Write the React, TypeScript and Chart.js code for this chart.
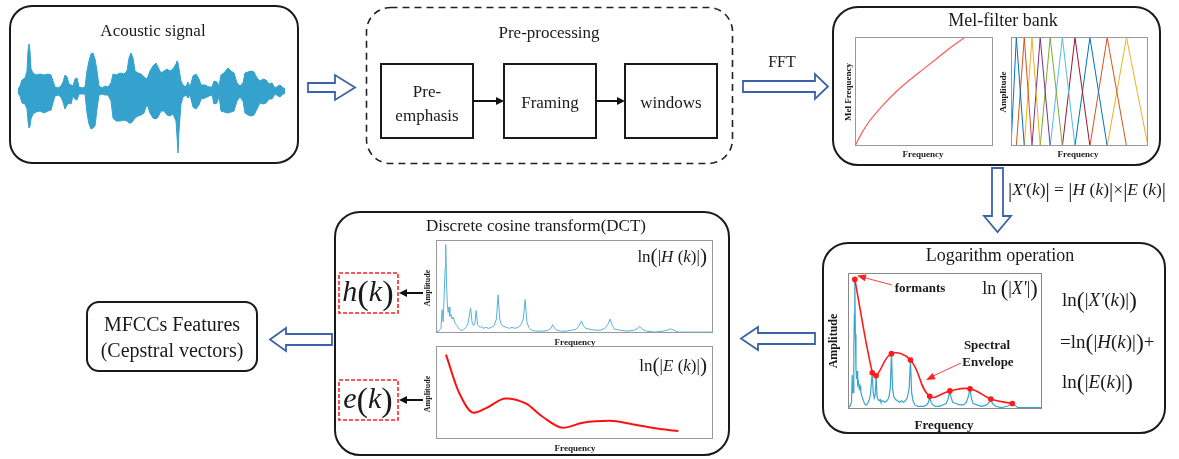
import React, { useEffect, useRef } from "react";
import { Chart, registerables } from "chart.js";
Chart.register(...registerables);

// ---------- DATA ----------
// Acoustic waveform envelope (sample index, upper / lower magnitude)
const waveTime = [18,20,22,25,27,28,29,30,31,33,36,40,44,48,51,53,55,58,61,63,65,67,69,71,73,75,77,79,82,85,87,89,91,93,95,97,99,102,105,108,111,113,116,120,124,127,129,131,133,135,138,141,144,147,150,153,156,158,161,164,167,170,173,176,177,178,179,181,183,186,188,190,193,196,199,201,205,209,212,214,217,219,221,224,228,231,234,237,240,243,245,248,251,254,257,260,263,266,269,272,275,278,280,282,285,287];
const waveUpper = [2,5,11,13,20,40,47,40,22,18,16,17,16,17,16,10,4,3,5,9,16,14,7,6,5,12,13,4,3,4,20,30,37,38,32,20,5,3,5,4,8,17,16,18,17,20,33,38,33,20,18,17,14,12,20,25,28,24,18,20,22,20,22,27,30,28,22,10,6,4,9,4,15,17,12,6,6,4,4,10,9,5,16,18,23,20,18,8,5,8,18,19,20,19,13,10,12,11,7,8,3,5,6,4,2,1];
const waveLower = [2,5,12,13,18,30,37,35,28,23,21,20,22,20,19,12,5,4,6,11,18,14,12,13,5,8,9,3,3,3,22,33,38,37,35,18,4,3,4,4,10,27,30,30,29,30,32,32,30,27,25,24,22,13,22,27,28,26,20,20,24,25,23,30,45,62,40,13,6,4,7,4,16,18,14,8,7,5,4,13,12,5,20,21,22,21,20,10,6,10,22,24,25,24,18,12,13,12,8,8,3,5,6,4,2,1];

// Mel scale curve (normalised frequency -> normalised mel)
const melFreq = [0, 0.05, 0.1, 0.2, 0.3, 0.4, 0.5, 0.6, 0.7, 0.8];
const melValue = [0, 0.12, 0.22, 0.37, 0.5, 0.61, 0.71, 0.81, 0.91, 1.0];

// Triangular filter edges (normalised frequency)
const filterEdges = [0, 0.039, 0.097, 0.153, 0.213, 0.286, 0.375, 0.467, 0.576, 0.702, 0.843, 1.0];
const filterColors = ["#0072BD", "#D95319", "#EDB120", "#7E2F8E", "#77AC30", "#4DBEEE", "#A2142F", "#0072BD", "#D95319", "#EDB120"];

// Log spectrum (normalised frequency / amplitude)
const specFreq = [0,0.01,0.018,0.022,0.026,0.03,0.033,0.035,0.038,0.041,0.044,0.047,0.05,0.054,0.058,0.062,0.066,0.07,0.075,0.08,0.085,0.09,0.095,0.1,0.105,0.11,0.115,0.12,0.125,0.13,0.135,0.14,0.145,0.15,0.155,0.16,0.165,0.17,0.18,0.19,0.2,0.21,0.218,0.224,0.23,0.236,0.245,0.255,0.265,0.275,0.285,0.295,0.305,0.315,0.322,0.328,0.335,0.345,0.36,0.375,0.39,0.405,0.415,0.421,0.428,0.437,0.45,0.47,0.49,0.505,0.515,0.525,0.532,0.54,0.555,0.575,0.595,0.61,0.62,0.629,0.636,0.645,0.665,0.69,0.715,0.728,0.736,0.745,0.76,0.79,0.82,0.835,0.847,0.858,0.875,0.9,0.93,0.96,1.0];
const specAmp = [0.01,0.02,0.05,0.25,0.12,0.45,0.7,0.95,0.55,0.3,0.22,0.28,0.18,0.2,0.15,0.17,0.13,0.1,0.08,0.06,0.04,0.03,0.03,0.04,0.05,0.07,0.1,0.18,0.27,0.12,0.08,0.1,0.24,0.09,0.07,0.06,0.07,0.05,0.06,0.05,0.06,0.08,0.15,0.41,0.15,0.09,0.07,0.06,0.05,0.06,0.05,0.06,0.08,0.15,0.36,0.12,0.06,0.03,0.02,0.02,0.02,0.03,0.05,0.09,0.05,0.03,0.02,0.02,0.03,0.04,0.07,0.13,0.08,0.05,0.04,0.03,0.03,0.05,0.09,0.15,0.08,0.04,0.03,0.02,0.03,0.05,0.07,0.04,0.02,0.01,0.02,0.03,0.045,0.03,0.01,0.01,0.01,0.01,0.01];

// Formant peaks joined by spectral envelope
const formantFreq = [0.035, 0.125, 0.145, 0.224, 0.322, 0.421, 0.525, 0.629, 0.736, 0.847];
const formantAmp = [0.953, 0.267, 0.244, 0.407, 0.36, 0.093, 0.133, 0.149, 0.074, 0.04];

// Envelope ln|E(k)|
const envFreq = [0.036, 0.082, 0.137, 0.179, 0.252, 0.324, 0.385, 0.458, 0.53, 0.627, 0.712, 0.809, 0.875];
const envAmp = [0.907, 0.507, 0.282, 0.329, 0.436, 0.382, 0.239, 0.121, 0.175, 0.196, 0.157, 0.107, 0.086];

// ---------- HELPERS ----------
const SERIF = '"Liberation Serif", "Times New Roman", serif';

const pts = (xs: number[], ys: number[], sign = 1) => xs.map((x, i) => ({ x, y: sign * ys[i] }));

const framePlugin = (color: string) => ({
  id: "frame",
  afterDraw(chart: any) {
    const { ctx, chartArea: a } = chart;
    ctx.save();
    ctx.strokeStyle = color;
    ctx.lineWidth = 1;
    ctx.strokeRect(a.left + 0.5, a.top + 0.5, a.right - a.left - 1, a.bottom - a.top - 1);
    ctx.restore();
  },
});

function baseOptions(xmin: number, xmax: number, ymin: number, ymax: number): any {
  return {
    responsive: false,
    animation: false,
    devicePixelRatio: 1,
    events: [],
    layout: { padding: 0 },
    plugins: { legend: { display: false }, tooltip: { enabled: false } },
    scales: {
      x: { type: "linear", display: false, min: xmin, max: xmax },
      y: { type: "linear", display: false, min: ymin, max: ymax },
    },
    elements: { point: { radius: 0 }, line: { tension: 0 } },
  };
}

function PlotCanvas({ left, top, width, height, make }: any) {
  const ref = useRef<HTMLCanvasElement>(null);
  useEffect(() => {
    const chart = new Chart(ref.current as HTMLCanvasElement, make());
    return () => chart.destroy();
  }, []);
  return (
    <canvas
      ref={ref}
      width={width}
      height={height}
      style={{ position: "absolute", left, top, width, height }}
    />
  );
}

function T({ x, y, size = 17, bold = false, italic = false, rotate = 0, anchor = "center", children }: any) {
  const tx = anchor === "center" ? "-50%" : anchor === "end" ? "-100%" : "0";
  return (
    <div
      style={{
        position: "absolute",
        left: x,
        top: y,
        transform: `translate(${tx}, -50%) rotate(${rotate}deg)`,
        fontFamily: SERIF,
        fontSize: size,
        fontWeight: bold ? "bold" : "normal",
        fontStyle: italic ? "italic" : "normal",
        color: "#1a1a1a",
        whiteSpace: "nowrap",
        lineHeight: 1,
      }}
    >
      {children}
    </div>
  );
}

const I = ({ children }: any) => <i>{children}</i>;
const Big = ({ children, s = 1.25 }: any) => (
  <span style={{ fontSize: `${s}em`, fontStyle: "normal", verticalAlign: "-0.08em" }}>{children}</span>
);

function arrowHead(x1: number, y1: number, x2: number, y2: number, len: number, half: number) {
  const dx = x2 - x1, dy = y2 - y1;
  const d = Math.hypot(dx, dy);
  const ux = dx / d, uy = dy / d;
  const bx = x2 - ux * len, by = y2 - uy * len;
  return `${x2},${y2} ${bx - uy * half},${by + ux * half} ${bx + uy * half},${by - ux * half}`;
}

// ---------- CHART CONFIGS ----------
const waveConfig = () => ({
  type: "line",
  data: {
    datasets: [
      { data: pts(waveTime, waveUpper), borderColor: "#34a2cc", borderWidth: 1, backgroundColor: "#34a2cc", fill: false, pointRadius: 0 },
      { data: pts(waveTime, waveLower, -1), borderColor: "#34a2cc", borderWidth: 1, backgroundColor: "#34a2cc", fill: "-1", pointRadius: 0 },
    ],
  },
  options: baseOptions(15, 285, -67, 53),
});

const melConfig = () => ({
  type: "line",
  data: {
    datasets: [
      { data: pts(melFreq, melValue), borderColor: "#ff5a5a", borderWidth: 1.2, tension: 0.4, cubicInterpolationMode: "monotone", pointRadius: 0 },
    ],
  },
  options: baseOptions(0, 1, 0, 1),
  plugins: [framePlugin("#999")],
});

const filterConfig = () => ({
  type: "line",
  data: {
    datasets: filterColors.map((c, i) => ({
      data: [
        { x: 0, y: 0 },
        { x: filterEdges[i], y: 0 },
        { x: filterEdges[i + 1], y: 1 },
        { x: filterEdges[i + 2], y: 0 },
        { x: 1, y: 0 },
      ],
      borderColor: c,
      borderWidth: 1,
      pointRadius: 0,
    })),
  },
  options: baseOptions(0, 1, 0, 1.005),
  plugins: [framePlugin("#999")],
});

const logConfig = () => ({
  type: "line",
  data: {
    datasets: [
      { data: pts(formantFreq, formantAmp), borderColor: "#ff1a1a", borderWidth: 1.6, tension: 0.4, pointRadius: 2.8, pointBackgroundColor: "#ff1a1a", pointBorderWidth: 0 },
      { data: pts(specFreq, specAmp), borderColor: "#3aa3cf", borderWidth: 1.2, pointRadius: 0 },
    ],
  },
  options: baseOptions(0, 1, 0, 1),
  plugins: [framePlugin("#888")],
});

const hConfig = () => ({
  type: "line",
  data: {
    datasets: [{ data: pts(specFreq, specAmp), borderColor: "#55b1da", borderWidth: 1, pointRadius: 0 }],
  },
  options: baseOptions(0, 1, 0, 1),
  plugins: [framePlugin("#999")],
});

const eConfig = () => ({
  type: "line",
  data: {
    datasets: [{ data: pts(envFreq, envAmp), borderColor: "#ff1010", borderWidth: 2, tension: 0.4, cubicInterpolationMode: "monotone", pointRadius: 0 }],
  },
  options: baseOptions(0, 1, 0, 1),
  plugins: [framePlugin("#999")],
});

// ---------- APP ----------
export default function App() {
  const blue = "#3b63a8";
  return (
    <div style={{ position: "absolute", left: 0, top: 0, width: 1179, height: 459, background: "#fff", overflow: "hidden" }}>
      <PlotCanvas left={15} top={38} width={270} height={120} make={waveConfig} />
      <PlotCanvas left={855} top={37} width={138} height={109} make={melConfig} />
      <PlotCanvas left={1011} top={37} width={137} height={109} make={filterConfig} />
      <PlotCanvas left={844} top={269} width={202} height={144} make={logConfig} />
      <PlotCanvas left={436} top={240} width={277} height={93} make={hConfig} />
      <PlotCanvas left={436} top={346} width={277} height={93} make={eConfig} />

      <svg width={1179} height={459} style={{ position: "absolute", left: 0, top: 0, pointerEvents: "none" }}>
        <g fill="none" stroke="#1a1a1a" strokeWidth={2}>
          <rect x={10} y={6} width={288} height={157} rx={22} />
          <rect x={381} y={64} width={92} height={74} />
          <rect x={504} y={64} width={92} height={74} />
          <rect x={625} y={64} width={92} height={74} />
          <rect x={833} y={7} width={327} height={158} rx={25} />
          <rect x={823} y={243} width={342} height={190} rx={25} />
          <rect x={335} y={212} width={394} height={243} rx={25} />
          <rect x={87} y={302} width={170} height={69} rx={12} />
        </g>
        <rect x={366.5} y={7.5} width={366} height={156} rx={24} fill="none" stroke="#222" strokeWidth={1.6} strokeDasharray="7 5" />
        <g fill="none" stroke="#ff2020" strokeWidth={1.6} strokeDasharray="4 2">
          <rect x={339} y={273} width={59} height={40} />
          <rect x={339} y={380} width={59} height={40} />
        </g>
        {/* hollow block arrows */}
        <g fill="#fff" stroke={blue} strokeWidth={1.8} strokeLinejoin="miter">
          <polygon points="308,83 335,83 335,75 355,87.5 335,100 335,92 308,92" />
          <polygon points="743,81 815,81 815,74 828,86.5 815,99 815,92 743,92" />
          <polygon points="992,168 1003,168 1003,216 1011,216 997.5,232 984,216 992,216" />
          <polygon points="815,333 758,333 758,327 741,338.5 758,350 758,344 815,344" />
          <polygon points="332,334 286,334 286,328 270,339.5 286,351 286,345 332,345" />
        </g>
        {/* black flow arrows */}
        <g stroke="#111" strokeWidth={2}>
          <line x1={473} y1={101} x2={498} y2={101} />
          <line x1={596} y1={101} x2={619} y2={101} />
          <line x1={423} y1={293} x2={406} y2={293} />
          <line x1={423} y1={400} x2={406} y2={400} />
        </g>
        <g fill="#111">
          <polygon points={arrowHead(473, 101, 504, 101, 8, 4)} />
          <polygon points={arrowHead(596, 101, 625, 101, 8, 4)} />
          <polygon points={arrowHead(423, 293, 399, 293, 8, 4)} />
          <polygon points={arrowHead(423, 400, 399, 400, 8, 4)} />
        </g>
        {/* annotation arrows in log plot */}
        <g stroke="#ff4040" strokeWidth={1}>
          <line x1={892} y1={285} x2={862} y2={277} />
          <line x1={961} y1={363} x2={931} y2={377} />
        </g>
        <g fill="#ff2020">
          <polygon points={arrowHead(892, 285, 857, 275.5, 9, 3.5)} />
          <polygon points={arrowHead(961, 363, 926, 380, 9, 3.5)} />
        </g>
      </svg>

      <T x={153} y={30} size={17}>Acoustic signal</T>
      <T x={549} y={32} size={17}>Pre-processing</T>
      <T x={427} y={91} size={17}>Pre-</T>
      <T x={427} y={115} size={17}>emphasis</T>
      <T x={550} y={102} size={17}>Framing</T>
      <T x={671} y={102} size={17}>windows</T>
      <T x={782} y={62} size={16}>FFT</T>

      <T x={1003} y={20} size={18}>Mel-filter bank</T>
      <T x={923} y={154} size={9} bold>Frequency</T>
      <T x={1078} y={154} size={9} bold>Frequency</T>
      <T x={848} y={92} size={9} bold rotate={-90}>Mel Frequency</T>
      <T x={1003} y={92} size={9} bold rotate={-90}>Amplitude</T>

      <T x={1008} y={190} size={17.5} anchor="start">
        <Big s={1.2}>|</Big><I>X</I>'(<I>k</I>)<Big s={1.2}>|</Big> = <Big s={1.2}>|</Big><I>H</I> (<I>k</I>)<Big s={1.2}>|</Big>×<Big s={1.2}>|</Big><I>E</I> (<I>k</I>)<Big s={1.2}>|</Big>
      </T>

      <T x={1000} y={255} size={18}>Logarithm operation</T>
      <T x={920} y={287} size={13} bold>formants</T>
      <T x={1010} y={289} size={18}>ln <Big>(</Big>|<I>X'</I>|<Big>)</Big></T>
      <T x={987} y={344} size={13} bold>Spectral</T>
      <T x={988} y={361} size={13} bold>Envelope</T>
      <T x={944} y={424} size={13} bold>Frequency</T>
      <T x={833} y={341} size={12} bold rotate={-90}>Amplitude</T>
      <T x={1062} y={301} size={19} anchor="start">ln<Big>(</Big>|<I>X'</I>(<I>k</I>)|<Big>)</Big></T>
      <T x={1060} y={343} size={19} anchor="start">=ln<Big>(</Big>|<I>H</I>(<I>k</I>)|<Big>)</Big>+</T>
      <T x={1062} y={383} size={19} anchor="start">ln<Big>(</Big>|<I>E</I>(<I>k</I>)|<Big>)</Big></T>

      <T x={536} y={225} size={17}>Discrete cosine transform(DCT)</T>
      <T x={707} y={257} size={17} anchor="end">ln<Big>(</Big>|<I>H</I> (<I>k</I>)|<Big>)</Big></T>
      <T x={707} y={366} size={17} anchor="end">ln<Big>(</Big>|<I>E</I> (<I>k</I>)|<Big>)</Big></T>
      <T x={575} y={342} size={9} bold>Frequency</T>
      <T x={575} y={448} size={9} bold>Frequency</T>
      <T x={428} y={288} size={8} bold rotate={-90}>Amplitude</T>
      <T x={428} y={394} size={8} bold rotate={-90}>Amplitude</T>
      <T x={368} y={292} size={30} italic>h<Big s={1.15}>(</Big>k<Big s={1.15}>)</Big></T>
      <T x={368} y={399} size={30} italic>e<Big s={1.15}>(</Big>k<Big s={1.15}>)</Big></T>

      <T x={172} y={324} size={20}>MFCCs Features</T>
      <T x={172} y={350} size={20}>(Cepstral vectors)</T>
    </div>
  );
}
